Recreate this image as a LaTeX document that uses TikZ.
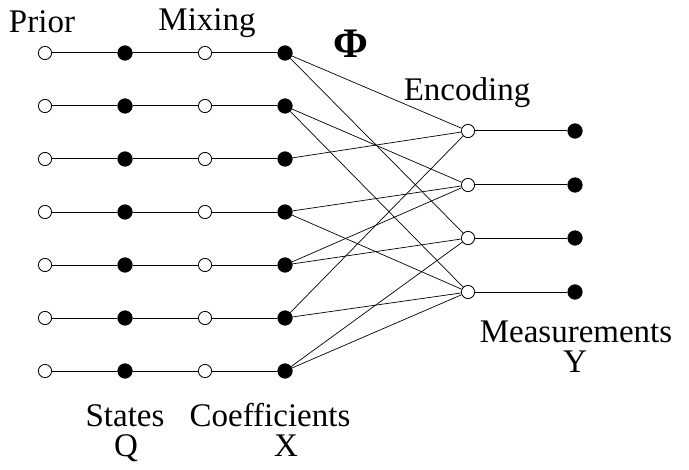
\documentclass[tikz,border=0pt]{standalone}
\usepackage{fontspec}
\setmainfont{Liberation Serif}
\begin{document}
\begin{tikzpicture}[x=0.5pt,y=-0.5pt,
  opennode/.style={circle,draw=black,fill=white,line width=0.4pt,minimum size=6.6pt,inner sep=0pt},
  fillnode/.style={circle,draw=black,fill=black,minimum size=7.2pt,inner sep=0pt},
  hline/.style={line width=0.5pt},
  eline/.style={line width=0.35pt},
  lab/.style={font=\fontsize{16.5}{18}\selectfont,inner sep=0pt},
  labnd/.style={lab,text height=11pt,text depth=0pt}]
\useasboundingbox (0,0) rectangle (689,470);
\foreach \i/\y in {1/53,2/106,3/159,4/212,5/265,6/318,7/371}{
  \node[opennode] (p\i) at (45,\y) {};
  \node[fillnode] (q\i) at (125,\y) {};
  \node[opennode] (m\i) at (205,\y) {};
  \node[fillnode] (x\i) at (285,\y) {};
  \draw[hline] (p\i) -- (q\i) -- (m\i) -- (x\i);
}
\foreach \j/\y in {1/131,2/185,3/238,4/292}{
  \node[opennode] (e\j) at (468,\y) {};
  \node[fillnode] (y\j) at (575,\y) {};
  \draw[hline] (e\j) -- (y\j);
}
\foreach \a/\b in {1/1,1/3,2/2,2/4,3/1,4/2,4/4,5/2,5/3,6/1,6/4,7/3,7/4}{
  \draw[eline] (x\a) -- (e\b);
}
\node[labnd] (tprior) at (42,22) {Prior};
\node[lab] (tmix) at (207,23) {Mixing};
\node[inner sep=0pt,font=\fontsize{21}{24}\selectfont\bfseries] (tphi) at (351,44) {Φ};
\node[lab] (tenc) at (467,93) {Encoding};
\node[labnd] (tmeas) at (576,331) {Measurements};
\node[labnd] (ty) at (575,361) {Y};
\node[labnd] (tstates) at (125,415) {States};
\node[labnd] (tq) at (126,445) {Q};
\node[labnd] (tcoef) at (270,415) {Coefficients};
\node[labnd] (tx) at (286,445) {X};
\end{tikzpicture}
\end{document}
